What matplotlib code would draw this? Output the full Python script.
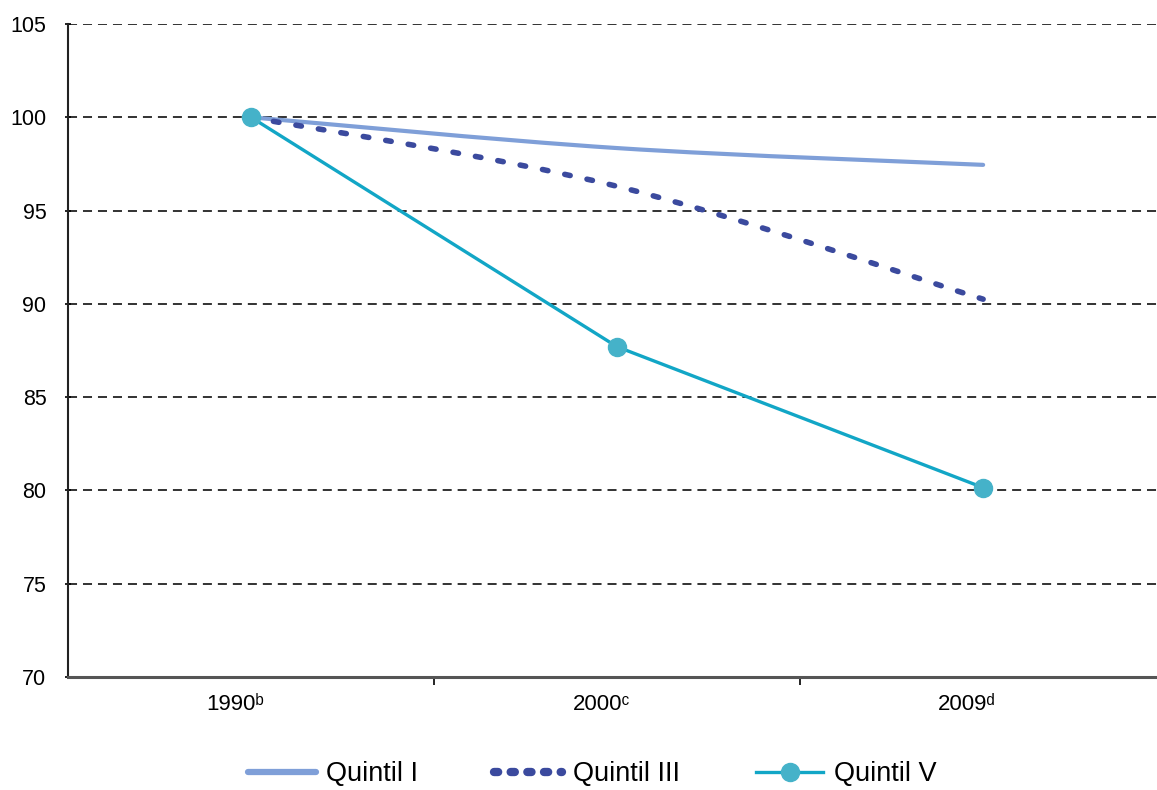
import numpy as np
import matplotlib.pyplot as plt
import matplotlib.transforms as mtrans
from matplotlib.path import Path
from matplotlib.patches import PathPatch

plt.rcParams['font.family'] = ['Liberation Sans', 'DejaVu Sans']

years = ['1990ᵇ', '2000ᶜ', '2009ᵈ']
quintil_1 = [100.0, 98.35, 97.45]
quintil_3 = [100.0, 96.3, 90.25]
quintil_5 = [100.0, 87.7, 80.15]

c_q1 = '#7f9fd8'
c_q3 = '#3b4a9e'
c_q5 = '#12a6c6'
c_mark = '#45b2c9'


def smooth_path(xs, ys):
    # excel style smoothed line, drawn as bezier segments
    pts = np.column_stack([xs, ys]).astype(float)
    ext = np.vstack([pts[0], pts, pts[-1]])
    verts = [tuple(pts[0])]
    codes = [Path.MOVETO]
    for i in range(len(pts) - 1):
        p0, p1, p2, p3 = ext[i], ext[i + 1], ext[i + 2], ext[i + 3]
        c1 = p1 + (p2 - p0) / 6.0
        c2 = p2 - (p3 - p1) / 6.0
        verts += [tuple(c1), tuple(c2), tuple(p2)]
        codes += [Path.CURVE4] * 3
    return Path(verts, codes)


fig = plt.figure(figsize=(11.57, 7.9), dpi=100)
ax = fig.add_axes([68 / 1157, 113 / 790, 1 - 68 / 1157, 653 / 790])

x = np.arange(len(years))

ax.add_patch(PathPatch(smooth_path(x, quintil_1), fill=False, edgecolor=c_q1,
                       lw=3.0, capstyle='round', zorder=3))
ax.add_patch(PathPatch(smooth_path(x, quintil_3), fill=False, edgecolor=c_q3,
                       lw=4.0, linestyle=(0, (1.0, 3.1)), capstyle='round', zorder=3))
ax.plot(x, quintil_5, color=c_q5, lw=2.4, marker='o', ms=13,
        mfc=c_mark, mec=c_mark, zorder=4, label='Quintil V')

# legend proxies
ax.plot([], [], color=c_q1, lw=4.5, solid_capstyle='round', label='Quintil I')
ax.plot([], [], color=c_q3, lw=6, linestyle=(0, (0.5, 1.5)),
        dash_capstyle='round', label='Quintil III')

ax.set_xlim(-0.5, 2.475)
ax.set_ylim(70, 105)
ax.set_yticks(np.arange(70, 106, 5))
ax.set_xticks(x)
ax.set_xticklabels(years)
ax.set_xticks([0.5, 1.5], minor=True)

for yv in range(75, 106, 5):
    ax.axhline(yv, color='#222222', lw=1.3, linestyle=(0, (5, 3.3)), zorder=1)

ax.tick_params(axis='x', which='major', length=0, pad=12, labelsize=16)
ax.tick_params(axis='x', which='minor', length=6, width=1.2, direction='out')
ax.tick_params(axis='y', length=5, width=1.2, direction='inout', labelsize=15.5, pad=13)

# labels sit a bit left of the category centre in the original
shift = mtrans.ScaledTranslation(-16 / 100, 0, fig.dpi_scale_trans)
for lab in ax.get_xticklabels():
    lab.set_transform(lab.get_transform() + shift)

for s in ['top', 'right']:
    ax.spines[s].set_visible(False)
ax.spines['left'].set_linewidth(1.5)
ax.spines['left'].set_color('#222222')
ax.spines['bottom'].set_linewidth(2.2)
ax.spines['bottom'].set_color('#555555')

h, l = ax.get_legend_handles_labels()
order = [1, 2, 0]
fig.legend([h[i] for i in order], [l[i] for i in order], loc='center',
           bbox_to_anchor=(0.512, 0.02), ncol=3, frameon=False, fontsize=19.5,
           handlelength=2.5, columnspacing=2.8, handletextpad=0.4)

fig.savefig('out.png', dpi=100)
